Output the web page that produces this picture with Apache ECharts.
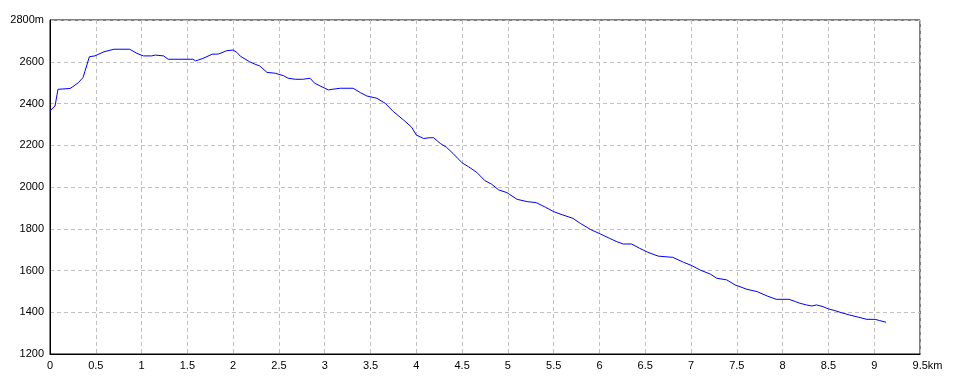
<!DOCTYPE html>
<html><head><meta charset="utf-8">
<script src="https://cdn.jsdelivr.net/npm/echarts@6/dist/echarts.min.js"></script>
<style>html,body{margin:0;padding:0;background:#fff}#c{width:960px;height:384px}</style>
</head><body><div id="c"></div>
<script>
const distanceKm = [0,0.055,0.087,0.22,0.25,0.31,0.36,0.38,0.43,0.49,0.59,0.70,0.87,0.95,1.02,1.11,1.15,1.24,1.29,1.56,1.59,1.67,1.77,1.84,1.93,2.00,2.04,2.08,2.13,2.18,2.24,2.29,2.37,2.46,2.55,2.60,2.68,2.76,2.84,2.89,2.95,3.04,3.08,3.17,3.31,3.39,3.46,3.57,3.66,3.75,3.86,3.95,4.00,4.08,4.14,4.19,4.26,4.33,4.40,4.50,4.57,4.66,4.75,4.82,4.90,4.99,5.10,5.21,5.31,5.41,5.50,5.60,5.71,5.79,5.90,6.01,6.11,6.19,6.26,6.35,6.44,6.53,6.64,6.80,6.92,7.01,7.10,7.21,7.28,7.39,7.48,7.61,7.72,7.83,7.93,8.07,8.14,8.19,8.26,8.32,8.37,8.44,8.50,8.57,8.64,8.73,8.83,8.92,9.01,9.06,9.13];
const elevationM = [2365,2388,2468,2472,2481,2500,2524,2552,2624,2628,2648,2660,2660,2640,2628,2628,2632,2628,2612,2612,2604,2616,2636,2637,2653,2656,2645,2626,2613,2600,2588,2580,2549,2545,2533,2521,2516,2516,2521,2497,2484,2465,2468,2473,2473,2452,2436,2425,2401,2361,2321,2286,2249,2232,2236,2236,2209,2190,2161,2116,2097,2070,2030,2014,1986,1973,1941,1930,1925,1903,1882,1866,1850,1826,1797,1775,1754,1738,1727,1727,1706,1687,1669,1663,1639,1623,1602,1583,1563,1555,1531,1510,1499,1478,1462,1462,1451,1443,1435,1430,1435,1427,1416,1408,1398,1387,1376,1366,1366,1360,1352];
const xMin = 0, xMax = 9.5, xStep = 0.5;
const yMin = 1200, yMax = 2800, yStep = 200;

const chart = echarts.init(document.getElementById('c'), null, {renderer:'canvas'});
const font = {fontFamily:'Liberation Sans', fontSize:11, color:'#000'};
chart.setOption({
  animation:false,
  backgroundColor:'#fff',
  grid:{left:50, right:40, top:20, bottom:30, show:true, borderColor:'#000', borderWidth:1, backgroundColor:'transparent'},
  xAxis:{type:'value', min:xMin, max:xMax, interval:xStep,
    axisLine:{show:true, onZero:false, lineStyle:{color:'#000', width:1}},
    axisTick:{show:false},
    axisLabel:Object.assign({margin:6, showMaxLabel:true, showMinLabel:true,
      formatter:v => (Math.abs(v-xMax)<1e-9 ? '{k|'+v+'km}' : String(v)),
      rich:{k:Object.assign({padding:[0,0,0,15]}, font)}}, font),
    splitLine:{show:true, lineStyle:{color:'#c0c0c0', type:[4,3], width:1}}
  },
  yAxis:{type:'value', min:yMin, max:yMax, interval:yStep,
    axisLine:{show:true, onZero:false, lineStyle:{color:'#000', width:1}},
    axisTick:{show:false},
    axisLabel:Object.assign({margin:6, showMaxLabel:true, showMinLabel:true,
      formatter:v => (v===yMax ? v+'m' : String(v))}, font),
    splitLine:{show:true, lineStyle:{color:'#c0c0c0', type:[4,3], width:1}}
  },
  series:[{type:'line', data:distanceKm.map((d,i)=>[d, elevationM[i]]),
    showSymbol:false, smooth:false, lineStyle:{color:'#0000ff', width:1}, itemStyle:{color:'#0000ff'}}]
});
</script></body></html>
